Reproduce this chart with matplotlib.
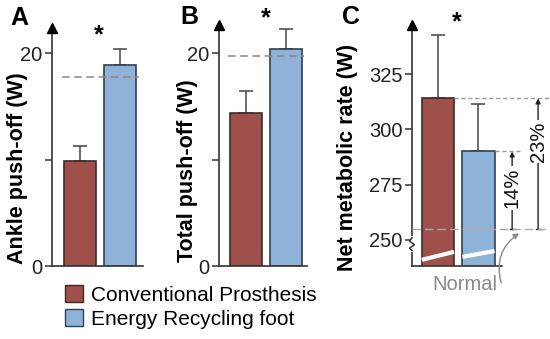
"""Three-panel bar figure: ankle push-off, total push-off and net metabolic rate."""

import matplotlib

matplotlib.use("Agg")
import matplotlib.pyplot as plt  # noqa: E402
from matplotlib.patches import Patch  # noqa: E402

plt.rcParams["font.family"] = ["Liberation Sans", "DejaVu Sans"]

conditions = ["Conventional Prosthesis", "Energy Recycling foot"]
ankle_mean = [9.85, 18.9]
ankle_err = [1.4, 1.5]
ankle_normal = 17.75
total_mean = [14.4, 20.4]
total_err = [2.05, 1.85]
total_normal = 19.7
metab_mean = [314, 290]
metab_err = [28.6, 21.3]
metab_normal = 255
metab_pct = ["23%", "14%"]

RED = "#a0504b"
BLUE = "#8fb2d8"
EDGES = ["#3d2a29", "#2f4254"]
INK = "#333333"
W, H = 550, 339


def box(left, top, right, bottom):
    return [left / W, 1 - bottom / H, (right - left) / W, (bottom - top) / H]


def style_axis(ax, ylim, xlim):
    ax.set_xlim(*xlim)
    ax.set_ylim(*ylim)
    ax.patch.set_alpha(0)
    for s in ("top", "right"):
        ax.spines[s].set_visible(False)
    for s in ("left", "bottom"):
        ax.spines[s].set_color(INK)
        ax.spines[s].set_linewidth(1.2)
    ax.set_xticks([])
    ax.tick_params(axis="y", length=5, width=1.1, color=INK, labelsize=14.5,
                   labelcolor="#222222", pad=2)
    ax.plot([0], [1], marker="^", ms=7, color="black", transform=ax.transAxes,
            clip_on=False, zorder=5)


def draw_bars(ax, means, errs):
    ax.bar([0, 1], means, width=0.79, color=[RED, BLUE], edgecolor=EDGES,
           linewidth=1.2, zorder=2)
    ax.errorbar([0, 1], means, yerr=[[0, 0], errs], fmt="none", ecolor="#444444",
                elinewidth=1.1, capsize=5, capthick=1.1, zorder=1)


fig = plt.figure(figsize=(5.5, 3.39), dpi=100)

# A: ankle push-off
axA = fig.add_axes(box(52, 28, 143, 266))
style_axis(axA, (0, 22.35), (-0.69, 1.56))
draw_bars(axA, ankle_mean, ankle_err)
axA.hlines(ankle_normal, -0.45, 1.45, colors="#888888", linestyles=(0, (5, 3)),
           lw=1.1, zorder=3)
axA.set_yticks([0, 10, 20], ["0", "", "20"])

# B: total push-off
axB = fig.add_axes(box(219, 25, 307, 266))
style_axis(axB, (0, 22.63), (-0.67, 1.51))
draw_bars(axB, total_mean, total_err)
axB.hlines(total_normal, -0.45, 1.43, colors="#888888", linestyles=(0, (5, 3)),
           lw=1.1, zorder=3)
axB.set_yticks([0, 10, 20], ["0", "", "20"])

# C: net metabolic rate
axC = fig.add_axes(box(412, 25, 502, 266))
style_axis(axC, (238.2, 347.2), (-0.64, 1.58))
draw_bars(axC, metab_mean, metab_err)
axC.set_yticks([250, 275, 300, 325])
axC.hlines(metab_mean[0], 0.395, 2.74, colors="#999999", linestyles=(0, (3, 2)),
           lw=1.0, clip_on=False, zorder=3)
axC.hlines(metab_mean[1], 1.395, 2.03, colors="#999999", linestyles=(0, (3, 2)),
           lw=1.0, clip_on=False, zorder=3)
axC.hlines(metab_normal, -0.64, 2.74, colors="#aaaaaa", linestyles=(0, (6, 3)),
           lw=1.0, clip_on=False, zorder=3)

# axis break marks
axC.plot([-0.395, 0.395], [241.0, 244.6], color="white", lw=3, zorder=4,
         solid_capstyle="butt")
axC.plot([0.605, 1.395], [242.3, 245.0], color="white", lw=3, zorder=4,
         solid_capstyle="butt")
axC.plot([-0.64, -0.64], [245.5, 251.0], color="white", lw=3, zorder=4,
         clip_on=False)
axC.plot([-0.64, -0.70, -0.58, -0.70, -0.64], [251.0, 249.5, 247.8, 246.3, 245.2],
         color=INK, lw=1.1, zorder=5, clip_on=False)

# percentage brackets
for xb, top, label, ytxt in [(2.47, metab_mean[0], metab_pct[0], 294.5),
                             (1.83, metab_mean[1], metab_pct[1], 273.5)]:
    axC.annotate("", xy=(xb, top), xytext=(xb, metab_normal),
                 arrowprops=dict(arrowstyle="-|>", color="#222222", lw=1.0,
                                 mutation_scale=7, shrinkA=0, shrinkB=0),
                 annotation_clip=False)
    axC.plot([xb - 0.06, xb + 0.06], [metab_normal, metab_normal], color="#222222",
             lw=1.0, clip_on=False)
    axC.text(xb, ytxt, label, rotation=90, ha="center", va="center", fontsize=14.5,
             color="#111111", bbox=dict(facecolor="white", edgecolor="none", pad=1),
             clip_on=False, zorder=6)

axC.text(0.67, 229.7, "Normal", ha="center", va="center", fontsize=14.5,
         color="#888888", clip_on=False)
axC.annotate("", xy=(2.0, 253.0), xytext=(1.56, 230.6),
             arrowprops=dict(arrowstyle="-|>", color="#888888", lw=1.0,
                             mutation_scale=8, shrinkA=0, shrinkB=0,
                             connectionstyle="arc3,rad=-0.35"),
             annotation_clip=False)

# labels and stars
fig.text(18 / W, 1 - 168 / H, "Ankle push-off (W)", rotation=90, ha="center",
         va="center", fontsize=15.5, fontweight="bold")
fig.text(188 / W, 1 - 171 / H, "Total push-off (W)", rotation=90, ha="center",
         va="center", fontsize=15.5, fontweight="bold")
fig.text(348 / W, 1 - 157 / H, "Net metabolic rate (W)", rotation=90, ha="center",
         va="center", fontsize=15.5, fontweight="bold")
for x, y, letter in [(19, 18, "A"), (189, 17, "B"), (351, 17, "C")]:
    fig.text(x / W, 1 - y / H, letter, ha="center", va="center", fontsize=18,
             fontweight="bold")
for x, y in [(99, 35, ), (266, 18), (457, 22)]:
    fig.text(x / W, 1 - y / H, "*", ha="center", va="center", fontsize=18,
             fontweight="bold")

handles = [Patch(facecolor=c, edgecolor=e, linewidth=1.0) for c, e in zip([RED, BLUE], EDGES)]
fig.legend(handles, conditions, loc="upper left", bbox_to_anchor=(65 / W, 1 - 285 / H),
           frameon=False, fontsize=15, handlelength=0.85, handleheight=0.9,
           handletextpad=0.4, labelspacing=0.2, borderaxespad=0, borderpad=0)

fig.savefig("out.png", dpi=100)
